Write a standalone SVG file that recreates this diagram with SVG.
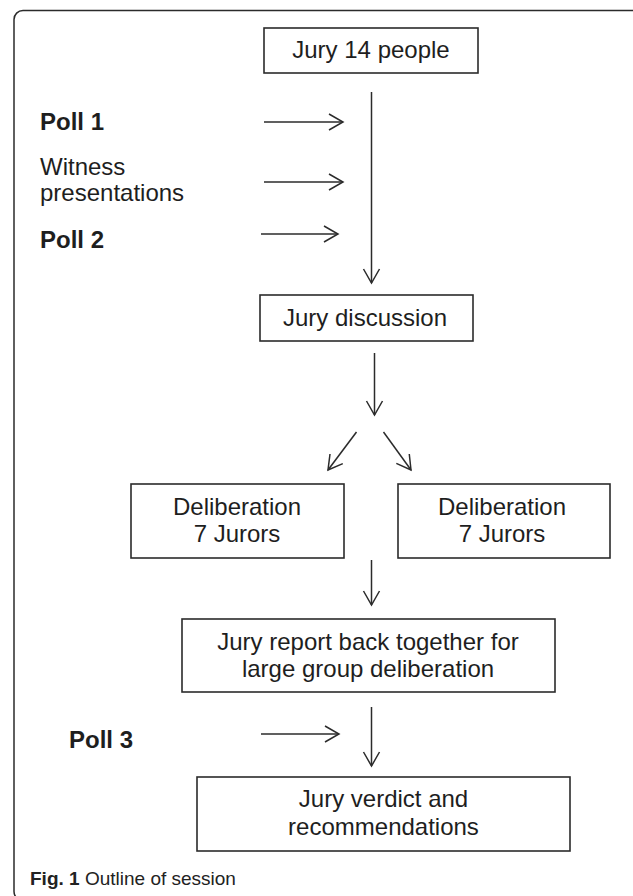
<svg xmlns="http://www.w3.org/2000/svg" width="633" height="896" viewBox="0 0 633 896">
<defs>
<style>
.box{fill:#fff;stroke:#2b2b2b;stroke-width:1.6}
.t{font-family:"Liberation Sans",Arial,sans-serif;font-size:24px;fill:#1e1e1e}
.c{text-anchor:middle}
.b{font-weight:bold}
.ln{stroke:#2b2b2b;stroke-width:1.5;fill:none;marker-end:url(#ah)}
.cap{font-family:"Liberation Sans",Arial,sans-serif;font-size:19px;fill:#222}
</style>
<marker id="ah" markerUnits="userSpaceOnUse" markerWidth="20" markerHeight="20" viewBox="-16 -10 18 20" refX="0" refY="0" orient="auto">
<path d="M-14,-8 L0,0 L-14,8" fill="none" stroke="#2b2b2b" stroke-width="1.5"/>
</marker>
</defs>
<rect x="14" y="10.5" width="640" height="890" rx="9" fill="#fff" stroke="#2b2b2b" stroke-width="1.5"/>
<g id="connectors">
<line class="ln" x1="371.5" y1="92" x2="371.5" y2="283"/>
<line class="ln" x1="264" y1="122" x2="343" y2="122"/>
<line class="ln" x1="264" y1="182" x2="343" y2="182"/>
<line class="ln" x1="261" y1="234" x2="338" y2="234"/>
<line class="ln" x1="374.5" y1="353" x2="374.5" y2="415"/>
<line class="ln" x1="356.5" y1="432" x2="328" y2="470"/>
<line class="ln" x1="383.5" y1="432" x2="411" y2="470"/>
<line class="ln" x1="371.5" y1="560" x2="371.5" y2="605"/>
<line class="ln" x1="371.5" y1="707" x2="371.5" y2="766"/>
<line class="ln" x1="261" y1="734" x2="339" y2="734"/>
</g>
<g id="n-jury14">
<rect class="box" x="264" y="28" width="214" height="45"/>
<text class="t c" x="371" y="58">Jury 14 people</text>
</g>
<g id="n-poll1"><text class="t b" x="40" y="130">Poll 1</text></g>
<g id="n-witness">
<text class="t" x="40" y="175">Witness</text>
<text class="t" x="40" y="201">presentations</text>
</g>
<g id="n-poll2"><text class="t b" x="40" y="248">Poll 2</text></g>
<g id="n-discussion">
<rect class="box" x="260" y="295" width="213" height="46"/>
<text class="t c" x="365" y="326">Jury discussion</text>
</g>
<g id="n-delib-left">
<rect class="box" x="131" y="484" width="213" height="74"/>
<text class="t c" x="237" y="515">Deliberation</text>
<text class="t c" x="237" y="542">7 Jurors</text>
</g>
<g id="n-delib-right">
<rect class="box" x="398" y="484" width="212" height="74"/>
<text class="t c" x="502" y="515">Deliberation</text>
<text class="t c" x="502" y="542">7 Jurors</text>
</g>
<g id="n-report">
<rect class="box" x="182" y="619" width="373" height="73"/>
<text class="t c" x="368" y="650">Jury report back together for</text>
<text class="t c" x="368" y="677">large group deliberation</text>
</g>
<g id="n-poll3"><text class="t b" x="69" y="748">Poll 3</text></g>
<g id="n-verdict">
<rect class="box" x="197" y="777" width="373" height="74"/>
<text class="t c" x="383.5" y="807">Jury verdict and</text>
<text class="t c" x="383.5" y="835">recommendations</text>
</g>
<text class="cap" x="30" y="885"><tspan font-weight="bold">Fig. 1</tspan> Outline of session</text>
</svg>
